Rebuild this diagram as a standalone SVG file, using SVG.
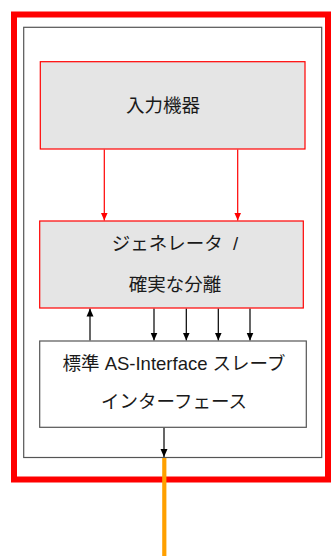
<svg xmlns="http://www.w3.org/2000/svg" width="331" height="557" viewBox="0 0 331 557">
<defs>
<style>
.t{font-family:"Liberation Sans","Noto Sans CJK JP",sans-serif;font-size:18.5px;fill:#1a1a1a;text-anchor:middle;dominant-baseline:central}
.box{fill:#e5e5e5;stroke:#ff0000;stroke-width:1.2}
.wbox{fill:#ffffff;stroke:#555555;stroke-width:1.2}
.rl{stroke:#ff0000;stroke-width:1.2;fill:none}
.bl{stroke:#000000;stroke-width:1.2;fill:none}
</style>
<marker id="ar" viewBox="0 0 8 10" refX="8" refY="5" markerWidth="8" markerHeight="10" markerUnits="userSpaceOnUse" orient="auto"><path d="M0,1.5 L8,5 L0,8.5 Z" fill="#ff0000"/></marker>
<marker id="ab" viewBox="0 0 8 10" refX="8" refY="5" markerWidth="8" markerHeight="10" markerUnits="userSpaceOnUse" orient="auto"><path d="M0,1.5 L8,5 L0,8.5 Z" fill="#000000"/></marker>
</defs>
<rect x="0" y="0" width="331" height="557" fill="#ffffff"/>
<g id="frame">
<rect x="14" y="14.5" width="314" height="465" fill="none" stroke="#ff0000" stroke-width="6"/>
<rect x="23.7" y="27.3" width="298" height="430.2" fill="none" stroke="#555555" stroke-width="1.2"/>
</g>
<g id="connectors">
<line class="rl" x1="104.3" y1="149.5" x2="104.3" y2="220.5" marker-end="url(#ar)"/>
<line class="rl" x1="237.7" y1="149.5" x2="237.7" y2="220.5" marker-end="url(#ar)"/>
<line class="bl" x1="90" y1="340.5" x2="90" y2="308.5" marker-end="url(#ab)"/>
<line class="bl" x1="154" y1="308.5" x2="154" y2="340.5" marker-end="url(#ab)"/>
<line class="bl" x1="186.3" y1="308.5" x2="186.3" y2="340.5" marker-end="url(#ab)"/>
<line class="bl" x1="218.3" y1="308.5" x2="218.3" y2="340.5" marker-end="url(#ab)"/>
<line class="bl" x1="250" y1="308.5" x2="250" y2="340.5" marker-end="url(#ab)"/>
<line class="bl" x1="164" y1="427.5" x2="164" y2="457" marker-end="url(#ab)"/>
<line x1="164.3" y1="458" x2="164.3" y2="556" stroke="#ffa000" stroke-width="4.2"/>
</g>
<g id="input">
<rect class="box" x="40.3" y="61.7" width="264.7" height="87.3"/>
<text class="t" x="163" y="105">入力機器</text>
</g>
<g id="generator">
<rect class="box" x="39.7" y="221" width="263.6" height="87"/>
<text class="t" x="175" y="243.5">ジェネレータ&#160;&#160;/</text>
<text class="t" x="175" y="284.5">確実な分離</text>
</g>
<g id="slave">
<rect class="wbox" x="39.7" y="341" width="266.6" height="86.3"/>
<text class="t" x="174" y="363">標準 AS-Interface スレーブ</text>
<text class="t" x="174" y="401">インターフェース</text>
</g>
</svg>
